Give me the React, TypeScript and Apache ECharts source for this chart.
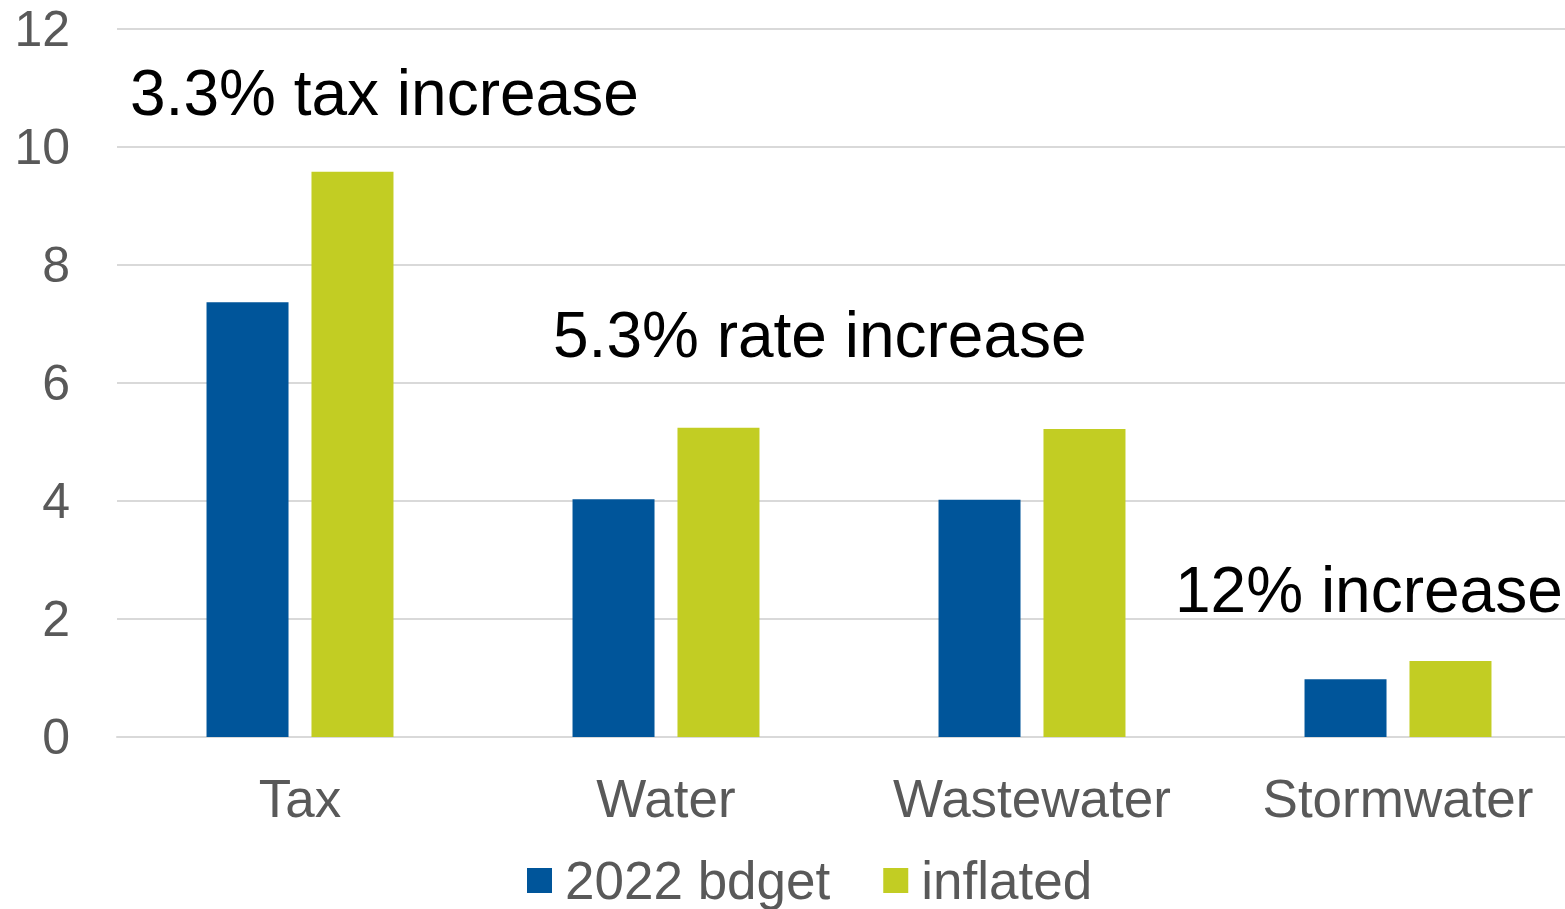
import React, { useEffect, useRef } from "react";
import * as echarts from "echarts";

const categories = ["Tax", "Water", "Wastewater", "Stormwater"];
const budget2022 = [7.37, 4.03, 4.02, 0.98];
const inflated = [9.58, 5.24, 5.22, 1.29];
const seriesNames = ["2022 bdget", "inflated"];
const yTicks = { min: 0, max: 12, interval: 2 };
const annotations = [
  { text: "3.3% tax increase", x: 130, y: 93 },
  { text: "5.3% rate increase", x: 553, y: 335 },
  { text: "12% increase", x: 1175, y: 590 },
];

export default function App() {
  const ref = useRef<HTMLDivElement>(null);
  useEffect(() => {
    if (!ref.current) return;
    const chart = echarts.init(ref.current, undefined, { renderer: "svg" });
    const font = "Liberation Sans, Arial, sans-serif";
    chart.setOption({
      animation: false,
      textStyle: { fontFamily: font },
      grid: { left: 117, right: 0, top: 29, bottom: 172, containLabel: false },
      legend: {
        data: seriesNames,
        top: 849,
        left: 522,
        itemWidth: 25,
        itemHeight: 25,
        itemGap: 53,
        icon: "rect",
        textStyle: {
          fontSize: 53,
          lineHeight: 40,
          color: "#595959",
          fontFamily: font,
          padding: [0, 0, 0, 8],
        },
      },
      xAxis: {
        type: "category",
        data: categories,
        axisLine: { lineStyle: { color: "#D9D9D9", width: 2 } },
        axisTick: { show: false },
        axisLabel: { fontSize: 53, color: "#595959", margin: 35, fontFamily: font },
      },
      yAxis: {
        type: "value",
        min: yTicks.min,
        max: yTicks.max,
        interval: yTicks.interval,
        axisLine: { show: false },
        axisTick: { show: false },
        splitLine: { lineStyle: { color: "#D9D9D9", width: 2 } },
        axisLabel: { fontSize: 50, color: "#595959", margin: 47, fontFamily: font },
      },
      series: [
        {
          name: seriesNames[0],
          type: "bar",
          data: budget2022,
          barWidth: 82,
          barGap: "28%",
          itemStyle: { color: "#00559A" },
        },
        {
          name: seriesNames[1],
          type: "bar",
          data: inflated,
          barWidth: 82,
          itemStyle: { color: "#C2CD23" },
        },
      ],
      graphic: annotations.map((a) => ({
        type: "text",
        left: a.x,
        top: a.y - 32,
        style: { text: a.text, fontSize: 64, fill: "#000000", fontFamily: font },
      })),
    });
    return () => chart.dispose();
  }, []);
  return (
    <div
      style={{
        position: "fixed",
        left: 0,
        top: 0,
        width: 1565,
        height: 909,
        overflow: "hidden",
      }}
    >
      <div ref={ref} style={{ width: 1581, height: 909 }} />
    </div>
  );
}
